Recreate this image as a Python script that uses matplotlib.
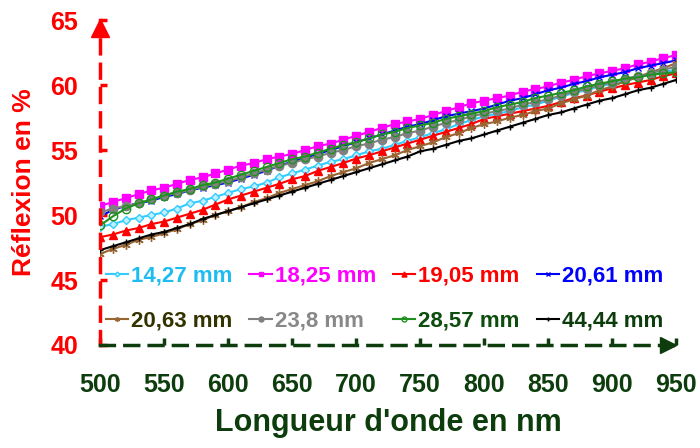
import matplotlib
matplotlib.use("Agg")
import matplotlib.pyplot as plt

plt.rcParams['font.family'] = ['Liberation Sans', 'DejaVu Sans']
plt.rcParams['font.weight'] = 'bold'

# wavelengths, one point every 10 nm
wavelength = list(range(500, 951, 10))

r_1427 = [49.1, 49.3, 49.6, 49.8, 50.0, 50.2, 50.5, 50.9, 51.1, 51.4,
          51.7, 52.0, 52.2, 52.5, 52.9, 53.2, 53.5, 53.8, 54.1, 54.3,
          54.6, 54.9, 55.1, 55.4, 55.7, 56.0, 56.3, 56.6, 57.0, 57.3,
          57.6, 57.8, 58.0, 58.3, 58.5, 58.8, 59.1, 59.4, 59.6, 59.9,
          60.1, 60.3, 60.6, 60.8, 61.0, 61.2]
r_1825 = [50.7, 51.0, 51.3, 51.6, 51.9, 52.1, 52.4, 52.7, 52.9, 53.2,
          53.5, 53.8, 54.0, 54.3, 54.5, 54.7, 55.0, 55.3, 55.5, 55.8,
          56.1, 56.4, 56.7, 57.0, 57.2, 57.4, 57.7, 58.0, 58.3, 58.6,
          58.8, 59.0, 59.2, 59.5, 59.7, 59.9, 60.2, 60.4, 60.7, 60.9,
          61.1, 61.3, 61.6, 61.8, 62.1, 62.3]
r_1905 = [48.3, 48.5, 48.8, 49.0, 49.3, 49.5, 49.8, 50.1, 50.4, 50.8,
          51.2, 51.5, 51.8, 52.1, 52.4, 52.75, 53.0, 53.4, 53.7, 54.0,
          54.35, 54.6, 54.9, 55.2, 55.5, 55.8, 56.1, 56.4, 56.7, 57.0,
          57.4, 57.6, 57.8, 58.0, 58.2, 58.4, 58.7, 59.0, 59.2, 59.5,
          59.75, 60.0, 60.2, 60.4, 60.7, 60.9]
r_2061 = [49.9, 50.4, 50.7, 50.9, 51.1, 51.4, 51.6, 51.9, 52.1, 52.3,
          52.5, 52.8, 53.1, 53.4, 53.8, 54.1, 54.4, 54.7, 55.0, 55.3,
          55.6, 55.9, 56.2, 56.5, 56.8, 57.0, 57.3, 57.6, 57.8, 58.0,
          58.2, 58.5, 58.8, 59.0, 59.3, 59.6, 59.8, 60.1, 60.3, 60.6,
          60.8, 61.0, 61.3, 61.5, 61.7, 61.9]
r_2063 = [47.0, 47.4, 47.7, 48.1, 48.3, 48.6, 48.9, 49.3, 49.6, 50.0,
          50.3, 50.6, 51.0, 51.3, 51.7, 52.0, 52.3, 52.6, 53.0, 53.3,
          53.6, 54.0, 54.3, 54.6, 55.0, 55.3, 55.6, 56.0, 56.3, 56.7,
          57.0, 57.2, 57.5, 57.7, 58.0, 58.2, 58.6, 58.9, 59.2, 59.6,
          59.9, 60.3, 60.6, 61.0, 61.3, 61.7]
r_238 = [50.2, 50.5, 50.7, 50.9, 51.2, 51.5, 51.7, 51.9, 52.2, 52.4,
         52.6, 52.9, 53.2, 53.5, 53.8, 54.0, 54.3, 54.5, 54.8, 55.0,
         55.3, 55.5, 55.8, 56.0, 56.3, 56.5, 56.8, 57.1, 57.3, 57.6,
         57.8, 58.0, 58.2, 58.5, 58.7, 58.9, 59.2, 59.5, 59.7, 60.0,
         60.2, 60.5, 60.7, 60.9, 61.2, 61.4]
r_2857 = [49.2, 49.9, 50.5, 50.9, 51.2, 51.5, 51.8, 52.0, 52.3, 52.5,
          52.8, 53.1, 53.4, 53.7, 54.0, 54.3, 54.5, 54.8, 55.1, 55.4,
          55.6, 55.9, 56.2, 56.4, 56.7, 56.9, 57.1, 57.4, 57.6, 57.8,
          58.0, 58.3, 58.5, 58.7, 59.0, 59.2, 59.4, 59.6, 59.9, 60.1,
          60.3, 60.5, 60.6, 60.8, 60.9, 61.0]
r_4444 = [47.3, 47.6, 47.9, 48.2, 48.5, 48.7, 49.0, 49.3, 49.7, 50.0,
          50.3, 50.6, 50.9, 51.2, 51.5, 51.8, 52.1, 52.4, 52.7, 53.0,
          53.3, 53.6, 53.9, 54.2, 54.5, 54.9, 55.1, 55.4, 55.7, 55.9,
          56.2, 56.5, 56.8, 57.1, 57.4, 57.7, 57.9, 58.2, 58.5, 58.8,
          59.0, 59.3, 59.6, 59.8, 60.1, 60.4]

labels = ['14,27 mm', '18,25 mm', '19,05 mm', '20,61 mm',
          '20,63 mm', '23,8 mm', '28,57 mm', '44,44 mm']
series = [r_1427, r_1825, r_1905, r_2061, r_2063, r_238, r_2857, r_4444]
colors = ['#33ccff', '#ff00ff', '#ff0000', '#0000ff',
          '#996633', '#808080', '#209020', '#000000']
text_colors = ['#1ebcf0', '#ff00ff', '#ff0000', '#0000ff',
               '#333300', '#888888', '#0d4d0d', '#0d3d0d']
markers = ['D', 's', '^', 'x', (6, 2, 0), 'o', 'o', '+']
msizes = [4, 6, 6, 4, 6, 6, 6, 5]
mfcs = ['#c0f0ff', '#ff00ff', '#ff0000', '#0000ff',
        '#996633', '#808080', 'none', '#000000']

axis_green = '#0d3d0d'

fig = plt.figure(figsize=(7, 4.48), dpi=100)
ax = fig.add_axes([0.143, 0.23, 0.823, 0.725])

lines = []
for y, lab, c, m, ms, fc in zip(series, labels, colors, markers, msizes, mfcs):
    ln, = ax.plot(wavelength, y, color=c, lw=1.5, marker=m, ms=ms,
                  mfc=fc, mec=c, mew=1.0, label=lab)
    lines.append(ln)

ax.set_xlim(500, 950)
ax.set_ylim(40, 65)
ax.set_xticks(range(500, 951, 50))
ax.set_yticks(range(40, 66, 5))

for s in ['top', 'right']:
    ax.spines[s].set_visible(False)
ax.spines['left'].set_color('#ff0000')
ax.spines['left'].set_linewidth(2.5)
ax.spines['left'].set_linestyle((0, (4, 3)))
ax.spines['bottom'].set_color(axis_green)
ax.spines['bottom'].set_linewidth(2.5)
ax.spines['bottom'].set_linestyle((0, (4, 3)))

# arrow heads at the end of the axes
ax.plot(0, 0.975, marker='^', ms=13, color='#ff0000',
        transform=ax.transAxes, clip_on=False)
ax.plot(0.985, 0, marker='>', ms=12, color=axis_green,
        transform=ax.transAxes, clip_on=False)

ax.tick_params(axis='y', direction='in', length=5, width=2.5,
               colors='#ff0000', labelsize=18, pad=16)
ax.tick_params(axis='x', direction='in', length=5, width=2.5,
               colors=axis_green, labelsize=18, pad=20)
for t in ax.get_xticklabels() + ax.get_yticklabels():
    t.set_fontweight('bold')

ax.set_xlabel("Longueur d'onde en nm", fontsize=22, fontweight='bold',
              color=axis_green, labelpad=8)
ax.set_ylabel('Réflexion en %', fontsize=19, fontweight='bold',
              color='#ff0000')
ax.yaxis.set_label_coords(-0.112, 0.50)

# legend filled row by row (matplotlib fills columns first)
order = [0, 4, 1, 5, 2, 6, 3, 7]
leg = ax.legend([lines[i] for i in order], [labels[i] for i in order],
                loc='lower left', bbox_to_anchor=(0.01, 0.04), ncol=4,
                frameon=False, handlelength=1.0,
                handletextpad=0.15, columnspacing=0.75, labelspacing=1.1,
                borderpad=0, borderaxespad=0, markerscale=0.6,
                labelcolor=[text_colors[i] for i in order],
                prop={'weight': 'bold', 'size': 16})

fig.savefig('out.png', dpi=100)
